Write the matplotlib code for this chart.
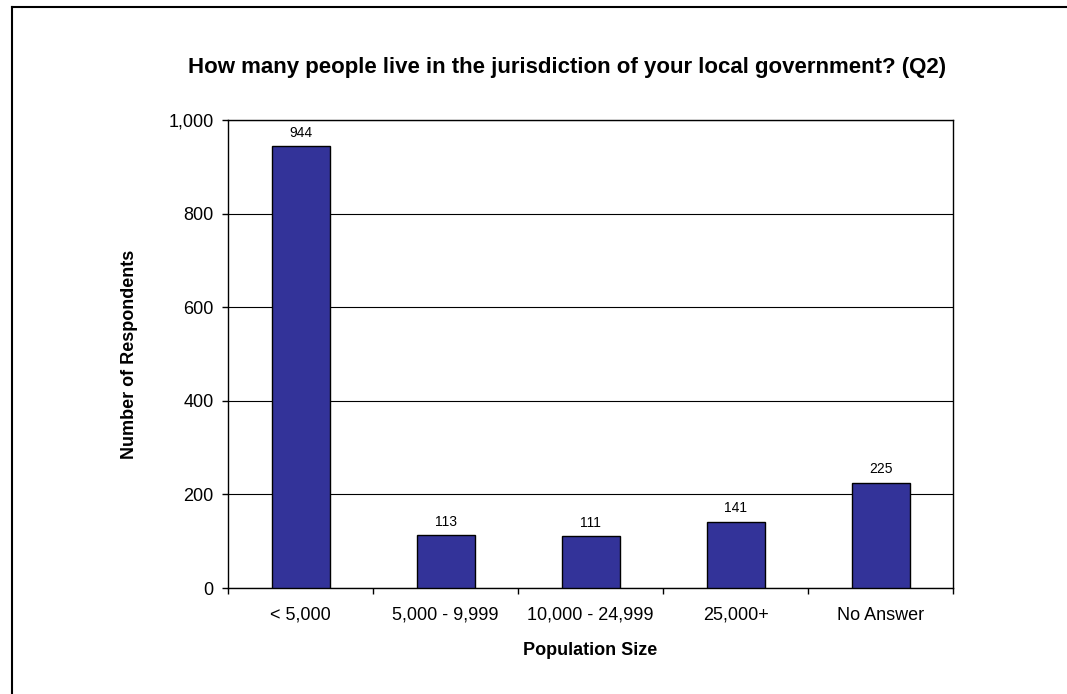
import numpy as np
import matplotlib.pyplot as plt
from matplotlib.lines import Line2D

plt.rcParams['font.family'] = ['Liberation Sans', 'DejaVu Sans']

# respuestas por tamaño de población
categorias = ['< 5,000', '5,000 - 9,999', '10,000 - 24,999', '25,000+', 'No Answer']
respuestas = [944, 113, 111, 141, 225]

fig = plt.figure(figsize=(10.67, 6.94), dpi=100)
ax = fig.add_axes([0.2137, 0.1527, 0.6795, 0.6744])

x = np.arange(len(categorias))
barras = ax.bar(x, respuestas, width=0.4, color='#333399', edgecolor='black', linewidth=1, zorder=3)

for b, v in zip(barras, respuestas):
    ax.text(b.get_x() + b.get_width() / 2, v + 14, f'{v}', ha='center', va='bottom', fontsize=10)

ax.set_xlim(-0.5, len(categorias) - 0.5)
ax.set_ylim(0, 1000)
ax.set_yticks(range(0, 1001, 200))
ax.set_yticklabels([f'{t:,}' for t in range(0, 1001, 200)], fontsize=13)
ax.yaxis.grid(True, color='black', linewidth=0.8, zorder=0)

# marcas del eje x entre categorías
ax.set_xticks(np.arange(-0.5, len(categorias), 1.0))
ax.set_xticklabels([])
ax.set_xticks(x, minor=True)
ax.set_xticklabels(categorias, minor=True, fontsize=13)
ax.tick_params(axis='x', which='minor', length=0, pad=13.5)
ax.tick_params(axis='both', which='major', direction='out', length=4.5, width=1)
ax.tick_params(axis='y', pad=6)

for s in ax.spines.values():
    s.set_linewidth(1)

ax.set_xlabel('Population Size', fontsize=13, fontweight='bold', labelpad=13)
ax.set_ylabel('Number of Respondents', fontsize=13, fontweight='bold', labelpad=22)

fig.text(567 / 1067, 1 - 67 / 694, 'How many people live in the jurisdiction of your local government? (Q2)',
         ha='center', va='center', fontsize=16, fontweight='bold')

# marco exterior
fig.add_artist(Line2D([12 / 1067, 1], [1 - 7 / 694, 1 - 7 / 694], color='black', linewidth=1.5))
fig.add_artist(Line2D([12 / 1067, 12 / 1067], [0, 1 - 7 / 694], color='black', linewidth=1.5))

fig.savefig('out.png', dpi=100, facecolor='white')
